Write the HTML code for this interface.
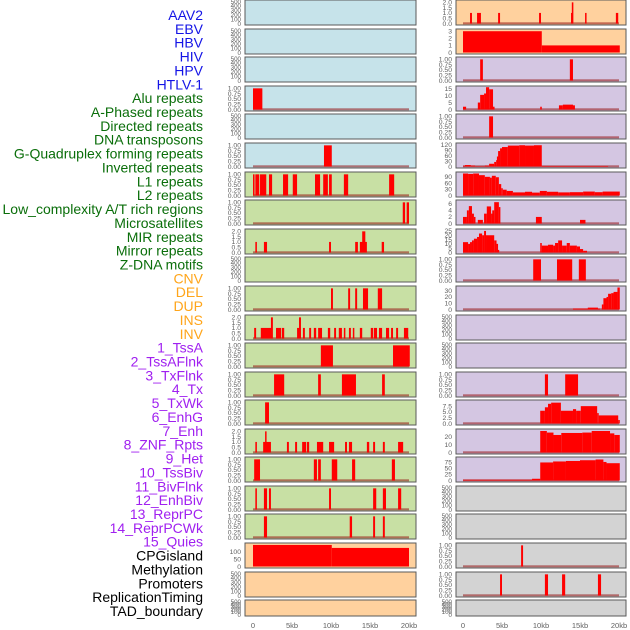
<!DOCTYPE html>
<html><head><meta charset="utf-8"><style>
html,body{margin:0;padding:0;background:#fff;width:630px;height:630px;overflow:hidden}
svg{display:block}
text{font-family:"Liberation Sans",sans-serif}
</style></head><body>
<svg id="chart" width="630" height="630" viewBox="0 0 630 630" xmlns="http://www.w3.org/2000/svg"></svg>
<script>
// ---- labels ----
const trackLabels = ["AAV2","EBV","HBV","HIV","HPV","HTLV-1","Alu repeats","A-Phased repeats","Directed repeats","DNA transposons","G-Quadruplex forming repeats","Inverted repeats","L1 repeats","L2 repeats","Low_complexity A/T rich regions","Microsatellites","MIR repeats","Mirror repeats","Z-DNA motifs","CNV","DEL","DUP","INS","INV","1_TssA","2_TssAFlnk","3_TxFlnk","4_Tx","5_TxWk","6_EnhG","7_Enh","8_ZNF_Rpts","9_Het","10_TssBiv","11_BivFlnk","12_EnhBiv","13_ReprPC","14_ReprPCWk","15_Quies","CPGisland","Methylation","Promoters","ReplicationTiming","TAD_boundary"];
const labelColors = ["#1414e6","#1414e6","#1414e6","#1414e6","#1414e6","#1414e6","#0a6e0a","#0a6e0a","#0a6e0a","#0a6e0a","#0a6e0a","#0a6e0a","#0a6e0a","#0a6e0a","#0a6e0a","#0a6e0a","#0a6e0a","#0a6e0a","#0a6e0a","#ffa51a","#ffa51a","#ffa51a","#ffa51a","#ffa51a","#a020f0","#a020f0","#a020f0","#a020f0","#a020f0","#a020f0","#a020f0","#a020f0","#a020f0","#a020f0","#a020f0","#a020f0","#a020f0","#a020f0","#a020f0","#000","#000","#000","#000","#000"];
const xTickValues = [0,5,10,15,20];
const xTickLabels = ["0","5kb","10kb","15kb","20kb"];

// ---- y-axis tick sets ----
const tEmpty = [0,100,200,300,400,500];
const tFrac = [0,0.25,0.5,0.75,1];
const tTwo = [0,0.5,1,1.5,2];

// ---- left column segments [startKb, endKb, value] ----
const L4 = [[0,1.2,1]];
const L6 = [[9.1,10.1,1]];
const L7 = [[0,0.2,1],[0.3,0.8,1],[0.9,1.7,1],[2.05,2.45,1],[3.85,4.5,1],[5.1,5.65,1],[7.95,8.6,1],[9.0,9.6,1],[9.75,10.1,1],[11.65,12.2,1],[17.45,18.1,1]];
const L8 = [[19.2,19.5,1],[19.7,20,1]];
const L9 = [[0.3,0.5,1],[1.4,1.8,1],[9.75,10.0,1],[13.1,13.45,1],[13.7,14.6,1],[14.0,14.4,2],[16.5,16.8,1]];
const L11 = [[10,10.25,1],[12.2,12.45,1],[13.1,13.35,1],[14.1,14.75,1],[16.0,16.55,1]];
const L12 = [[0.15,0.4,1],[1.0,2.45,1],[2.3,2.55,2],[2.95,3.6,1],[3.7,4.0,1],[5.65,6.15,1],[5.9,6.15,2],[6.4,6.65,1],[7.2,7.45,1],[7.8,8.1,1],[8.35,8.85,1],[9.6,9.9,1],[10.4,10.65,1],[11.0,11.4,1],[11.65,11.8,1],[12.3,12.55,1],[12.8,12.95,1],[13.7,14.0,1],[15.1,15.4,1],[15.5,15.9,1],[16.15,16.55,1],[17.05,17.45,1],[17.7,17.95,1],[18.35,18.6,1],[19.35,19.9,1]];
const L13 = [[8.7,10.25,1],[17.95,20.1,1]];
const L14 = [[2.7,4.0,1],[8.35,8.7,1],[11.4,13.2,1],[16.55,16.9,1]];
const L15 = [[1.55,2.05,1]];
const L16 = [[0.3,0.5,1],[1.3,2.3,1],[1.55,1.7,2],[4.35,4.6,1],[5.4,5.65,1],[6.3,6.8,1],[6.9,7.2,1],[8.2,9.0,1],[9.75,10.4,1],[11.8,12.05,1],[12.3,12.7,1],[14.6,14.9,1],[15.4,15.65,1],[16.65,16.9,1],[18.6,19.25,1]];
const L17 = [[0.15,0.9,1],[7.8,8.2,1],[8.35,8.7,1],[10.1,10.8,1],[12.7,13.1,1],[17.8,18.2,1]];
const L18 = [[0.3,0.5,1],[1.4,1.8,1],[2.05,2.3,1],[9.75,10.0,1],[15.4,15.8,1],[16.65,17.05,1],[18.6,19.0,1]];
const L19 = [[1.4,1.8,1],[12.4,12.7,1],[15.4,15.65,1],[16.65,16.9,1]];
const L20 = [[0,10.1,145],[10.1,20,125]];

// ---- right column segments ----
const R1 = [[0.9,1.15,1],[1.8,2.3,1],[4.5,4.75,1],[9.75,10.0,1],[13.95,14.15,2],[13.85,14.1,1],[15.65,15.8,1],[19.6,19.9,1]];
const R2 = [[0,10.1,3],[10.1,20.1,1]];
const R3 = [[2.2,2.55,1],[13.7,14.1,1]];
const R4 = [[0,0.4,2],[1.9,2.2,5],[2.2,2.7,10.5],[2.7,2.95,11.5],[2.95,3.35,16],[3.35,3.85,14.5],[3.85,4.0,2],[9.9,10.1,2],[12.3,12.8,3],[12.8,14.1,3.5],[14.1,14.35,3]];
const R5 = [[3.35,3.85,1]];
const R6 = [[0,0.25,4],[0.25,1.0,8],[1.0,1.55,5],[1.55,2.8,2],[2.8,3.35,5],[3.35,4.0,15],[4.0,4.25,25],[4.25,4.35,35],[4.35,4.5,55],[4.5,4.75,85],[4.75,5.0,100],[5.0,5.75,107],[5.75,7.2,115],[7.2,7.95,117],[7.95,9.1,115],[9.1,10.1,117],[10.1,18.6,3]];
const R7 = [[0,0.65,106],[0.65,1.3,104],[1.3,2.05,106],[2.05,2.8,98],[2.8,3.45,90],[3.45,3.7,86],[3.7,4.2,95],[4.2,4.6,88],[4.6,4.9,55],[4.9,5.1,35],[5.1,5.6,28],[5.6,6.4,22],[6.4,7.95,15],[7.95,8.85,18],[8.85,9.85,14],[9.85,10.75,22],[10.75,12.2,18],[12.2,13.7,15],[13.7,15.4,16],[15.4,16.9,19],[16.9,17.9,16],[17.9,20.1,19]];
const R8 = [[0,0.5,2],[0.5,0.75,4],[0.75,1.15,5.3],[1.15,1.4,3],[1.4,1.6,2],[1.9,2.55,1.1],[2.7,3.05,3],[3.05,3.6,5.2],[3.6,3.75,3],[3.75,4.0,4],[4.0,4.6,6.5],[4.6,4.75,5],[9.35,10.1,2],[15.0,15.7,1.1]];
const R9 = [[0,0.65,12],[0.65,0.9,10],[0.9,1.15,12],[1.15,1.4,14],[1.4,1.8,16],[1.8,2.05,18],[2.05,2.45,22],[2.45,2.7,20],[2.7,2.95,25],[2.95,4.0,20],[4.0,4.3,14],[4.3,4.45,10],[4.45,4.6,3],[9.9,10.1,11],[10.1,10.9,8],[10.9,11.55,9],[11.55,11.8,8],[11.8,12.2,11],[12.2,12.7,14],[12.7,13.3,8],[13.3,13.7,11],[13.7,14.6,8],[14.6,15.0,7],[15.0,15.4,4],[15.4,15.9,2]];
const R10 = [[9.0,10.0,1],[12.05,14.0,1],[14.85,15.75,1]];
const R11 = [[14.1,17.55,1.5],[16.0,17.3,3],[17.8,18.0,8],[18.0,18.4,18],[18.4,18.6,20],[18.6,19.0,25],[19.0,19.3,26],[19.3,19.8,28],[19.8,20.1,35]];
const R14 = [[10.5,10.9,1],[13.1,14.75,1]];
const R15 = [[9.9,10.5,5.5],[10.5,10.9,7],[10.9,11.3,8.5],[11.3,12.55,9],[12.55,14.1,5.5],[14.1,14.5,6.2],[14.5,15.1,5.5],[15.1,17.2,7.5],[17.2,17.4,4.5],[17.4,19.9,3.5],[19.9,20.1,1.5]];
const R16 = [[9.9,10.75,27],[10.75,11.6,25],[11.6,12.6,22],[12.6,15.3,24.5],[15.3,16.5,25],[16.5,18.85,27],[18.85,19.4,24],[19.4,20.1,22]];
const R17 = [[0,8.85,3],[8.85,9.9,7],[9.9,11.55,73],[11.55,13.2,77],[13.2,15.0,79],[15.0,17.0,82],[17.0,18.0,85],[18.0,18.4,75],[18.4,20.1,70]];
const R20 = [[7.45,7.7,1]];
const R21 = [[4.75,5.0,1],[10.5,10.9,1],[12.7,13.1,1],[17.3,17.7,1]];

// ---- panel definitions: [segments, ymax, ticks, background, baseline] ----
const BLUE="#c6e3ea", GREEN="#c8e0a4", ORANGE="#ffd19e", PURPLE="#d4c6e2", GRAY="#d3d3d3";
const leftPanels = [
 [[],500,tEmpty,BLUE,false],[[],500,tEmpty,BLUE,false],[[],500,tEmpty,BLUE,false],
 [L4,1.04,tFrac,BLUE,true],[[],500,tEmpty,BLUE,false],[L6,1.04,tFrac,BLUE,true],
 [L7,1.04,tFrac,GREEN,true],[L8,1.04,tFrac,GREEN,true],[L9,2.08,tTwo,GREEN,true],
 [[],500,tEmpty,GREEN,false],[L11,1.04,tFrac,GREEN,true],[L12,2.08,tTwo,GREEN,true],
 [L13,1.04,tFrac,GREEN,true],[L14,1.04,tFrac,GREEN,true],[L15,1.04,tFrac,GREEN,true],
 [L16,2.08,tTwo,GREEN,true],[L17,1.04,tFrac,GREEN,true],[L18,1.04,tFrac,GREEN,true],
 [L19,1.04,tFrac,GREEN,true],[L20,148,[0,50,100],ORANGE,false],[[],500,tEmpty,ORANGE,false],
 [[],500,tEmpty,ORANGE,false]
];
const rightPanels = [
 [R1,2.08,tTwo,ORANGE,true],[R2,3.1,[0,1,2,3],ORANGE,false],[R3,1.04,tFrac,PURPLE,true],
 [R4,15.8,[0,5,10,15],PURPLE,true],[R5,1.04,tFrac,PURPLE,true],[R6,121,[0,30,60,90,120],PURPLE,true],
 [R7,106,[0,30,60,90],PURPLE,true],[R8,6.7,[0,2,4,6],PURPLE,true],[R9,25.5,[0,5,10,15,20,25],PURPLE,true],
 [R10,1.04,tFrac,PURPLE,true],[R11,35,[0,10,20,30],PURPLE,true],[[],500,tEmpty,PURPLE,false],
 [[],500,tEmpty,PURPLE,false],[R14,1.04,tFrac,PURPLE,true],[R15,9.5,[0,2.5,5,7.5],PURPLE,true],
 [R16,27.6,[0,10,20],PURPLE,true],[R17,89,[0,25,50,75],PURPLE,true],[[],500,tEmpty,GRAY,false],
 [[],500,tEmpty,GRAY,false],[R20,1.04,tFrac,GRAY,true],[R21,1.04,tFrac,GRAY,true],
 [[],500,tEmpty,GRAY,false]
];

const NS="http://www.w3.org/2000/svg";
const svg=document.getElementById('chart');
function mk(tag,attrs,parent){const e=document.createElementNS(NS,tag);for(const k in attrs)e.setAttribute(k,attrs[k]);(parent||svg).appendChild(e);return e;}

const rowTops=[0,29,57,86,114,143,172,200,229,257,286,315,343,372,400,429,457,486,514,543,572,600];
const cols=[{left:245,right:416,x0:253,panels:leftPanels,name:'left'},{left:456,right:626,x0:463,panels:rightPanels,name:'right'}];
const pxPerKb=7.8;

function fmt(v,ticks){
  if(ticks===tFrac) return v.toFixed(2);
  const dec = ticks.some(t=>t%1!==0)?1:0;
  return v.toFixed(dec);
}

cols.forEach(col=>{
  const xs=kb=>col.x0+kb*pxPerKb;
  col.panels.forEach((p,i)=>{
    const [segs,ymax,ticks,bg,base]=p;
    const top=rowTops[i], h=(i===21?16:25);
    const g=mk('g',{});
    
    
    const yb=top+h-1.5, yt=top+1.5;
    const ys=v=>yb-(v/ymax)*(yb-yt);
    const bgR=mk('rect',{x:col.left,y:top,width:col.right-col.left,height:h,fill:bg,stroke:'#5a5a5a','stroke-width':1},g);
    
    
    if(base){
      const bl=mk('rect',{x:xs(0),y:yb-1.2,width:xs(20)-xs(0),height:2,fill:'rgba(150,20,20,0.55)'},g);
      
      
    }
    segs.forEach(s=>{
      const r=mk('rect',{x:xs(s[0]),y:ys(s[2]),width:Math.max(xs(s[1])-xs(s[0]),1.5),height:yb-ys(s[2]),fill:'#ff0000'},g);
      
      
    });
    ticks.forEach(t=>{
      const tx=mk('text',{x:col.left-4,y:ys(t)+2.3,'font-size':(ticks===tEmpty?6.2:6.8),fill:'#5f5f5f','text-anchor':'end'},g);
      tx.textContent=fmt(t,ticks);
      
      
    });
  });
  xTickValues.forEach((v,k)=>{
    const t=mk('text',{x:xs(v),y:628,'font-size':7.5,fill:'#5f5f5f','text-anchor':'middle'});
    t.textContent=xTickLabels[k];
    
    
  });
});

const labelStep=(611-15)/43;
trackLabels.forEach((lab,i)=>{
  const y=15+i*labelStep+5;
  const t=mk('text',{x:203,y:y,'font-size':14,fill:labelColors[i],'text-anchor':'end'});
  t.textContent=lab;
  
  
});
</script>
</body></html>
